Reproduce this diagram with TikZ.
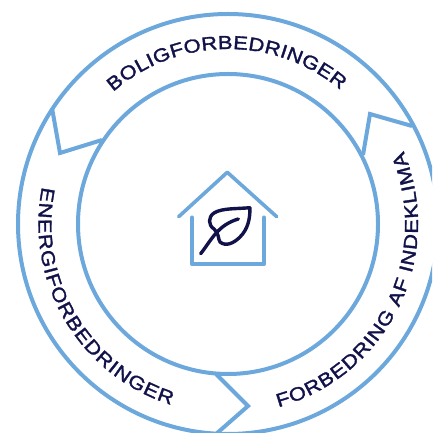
\documentclass[tikz,border=0pt]{standalone}
\usepackage{fontspec}
\usetikzlibrary{decorations.text,calc}
\setmainfont{Liberation Sans}
\newfontface\ringfont[FakeStretch=1.16,FakeBold=1.8]{Liberation Sans}
\definecolor{ringblue}{HTML}{6CA8DC}
\definecolor{inkblue}{HTML}{12124A}
\tikzset{
  x=1pt,y=1pt,
  ringline/.style={draw=ringblue,line width=4pt,line join=miter},
  houseline/.style={draw=ringblue,line width=3.6pt,line cap=round,line join=round},
  leafline/.style={draw=inkblue,line width=3.4pt,line cap=round,line join=round},
  ringtext/.style={decorate,decoration={text along path,text align={fit to path},
     text color=inkblue,text={|\fontsize{18.8}{20}\selectfont\ringfont|#1}}}
}
\begin{document}
\begin{tikzpicture}
\useasboundingbox (0,0) rectangle (432,433);
\clip (0,0) rectangle (432,433);
\coordinate (c) at (228,209);
% rings
\draw[ringline] (c) circle[radius=210];
\draw[ringline] (c) circle[radius=150];
% notches
\coordinate (a1) at (52,325);
\coordinate (a2) at (60,280);
\coordinate (a3) at (102,293);
\coordinate (b1) at (363,278);
\coordinate (b2) at (370,319);
\coordinate (b3) at (412,307);
\coordinate (d1) at (216,59);
\coordinate (d2) at (248,27);
\coordinate (d3) at (216,-1);
\draw[ringline] (a1)--(a2)--(a3);
\draw[ringline] (b1)--(b2)--(b3);
\draw[ringline] (d1)--(d2)--(d3);
% texts
\path[ringtext={BOLIGFORBEDRINGER}] ($(c)+(131:175)$) arc[start angle=131,end angle=50,radius=175];
\path[ringtext={ENERGIFORBEDRINGER}] ($(c)+(168.7:189.5)$) arc[start angle=168.7,end angle=252.5,radius=189.5];
\path[ringtext={FORBEDRING AF INDEKLIMA}] ($(c)+(285.4:190)$) arc[start angle=285.4,end angle=382.5,radius=190];
% house
\coordinate (r1) at (178.7,216.3);
\coordinate (r2) at (227.3,260.7);
\coordinate (r3) at (276.7,216.3);
\coordinate (w1) at (192,215.7);
\coordinate (w2) at (192,168.7);
\coordinate (w3) at (264,168.7);
\coordinate (w4) at (264,215.7);
\draw[houseline] (r1)--(r2)--(r3);
\draw[houseline] (w1)--(w2)--(w3)--(w4);
% leaf
\coordinate (s1) at (200.7,179.3);
\coordinate (s2) at (238.3,214);
\coordinate (l1) at (250,225.3);
\draw[leafline] (s1) .. controls (212,194) and (218,208) .. (s2);
\draw[leafline] (l1) .. controls (236,224) and (222,225) .. (214,220)
   .. controls (208,216) and (208,208) .. (214,204)
   .. controls (219,200) and (218,194) .. (220,191)
   .. controls (226,186) and (234,190) .. (240,196)
   .. controls (248,204) and (250,214) .. (l1);
\end{tikzpicture}
\end{document}
